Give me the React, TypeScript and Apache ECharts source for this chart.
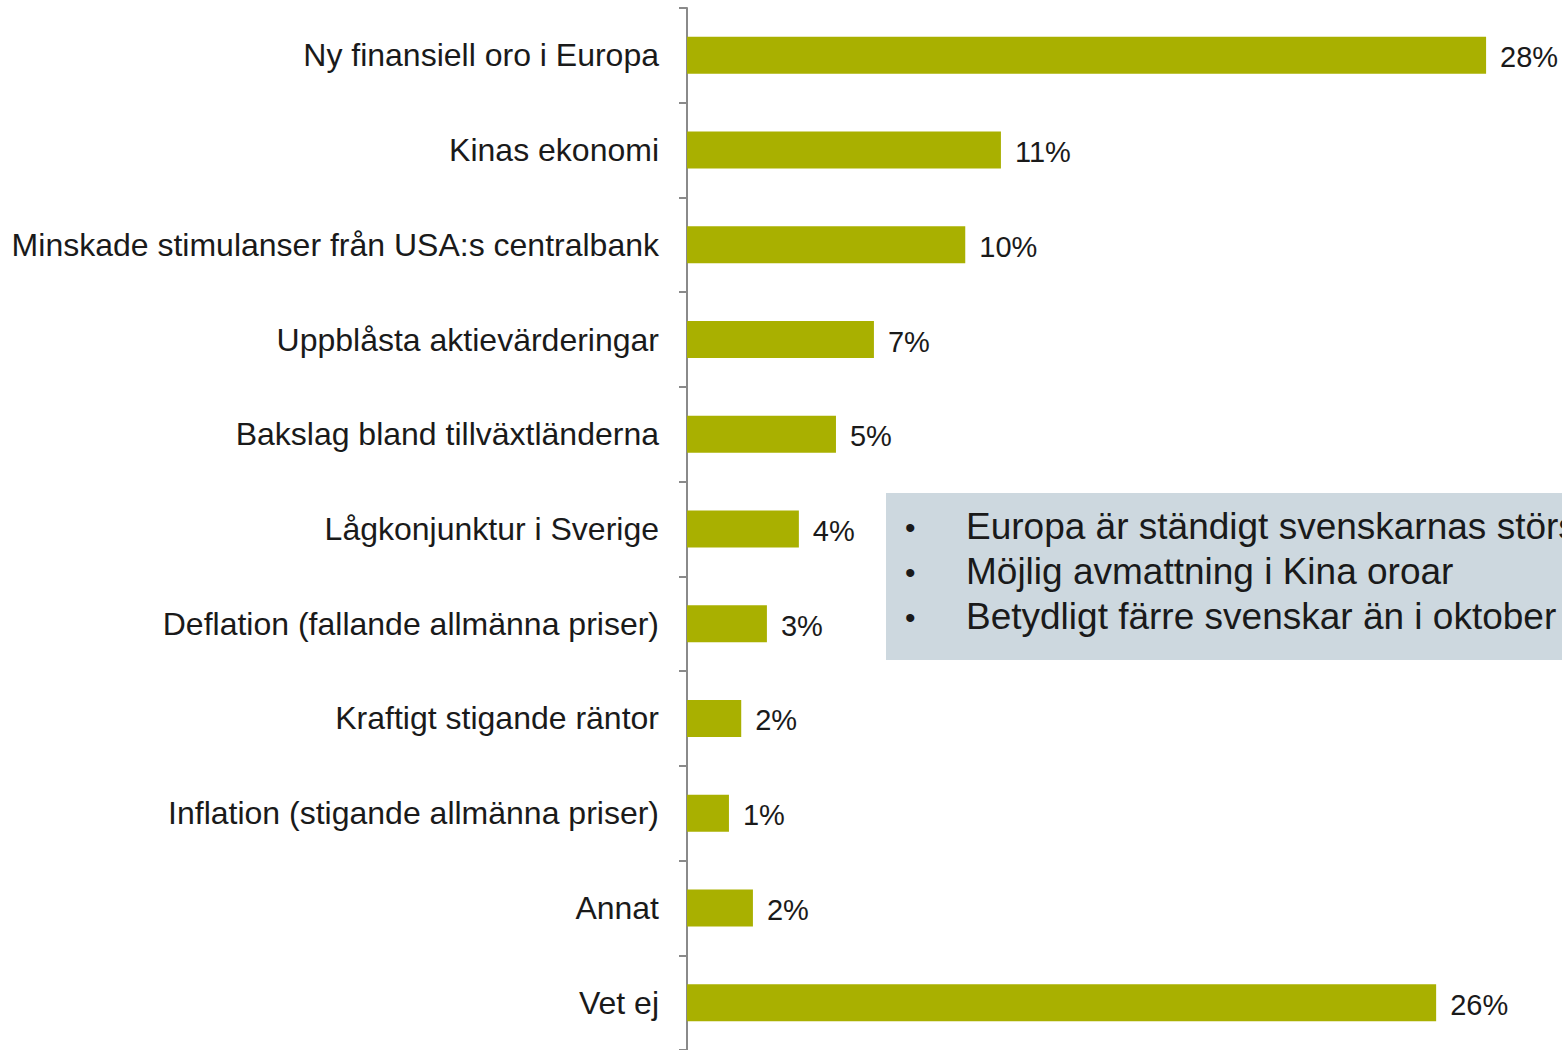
import React, { useEffect, useRef } from "react";
import * as echarts from "echarts";

const categories = [
  "Ny finansiell oro i Europa",
  "Kinas ekonomi",
  "Minskade stimulanser från USA:s centralbank",
  "Uppblåsta aktievärderingar",
  "Bakslag bland tillväxtländerna",
  "Lågkonjunktur i Sverige",
  "Deflation (fallande allmänna priser)",
  "Kraftigt stigande räntor",
  "Inflation (stigande allmänna priser)",
  "Annat",
  "Vet ej",
];
const values = [28, 11, 9.75, 6.55, 5.22, 3.92, 2.8, 1.9, 1.47, 2.31, 26.25];
const valueLabels = ["28%", "11%", "10%", "7%", "5%", "4%", "3%", "2%", "1%", "2%", "26%"];
const bullets = [
  "Europa är ständigt svenskarnas största oro",
  "Möjlig avmattning i Kina oroar",
  "Betydligt färre svenskar än i oktober",
];

const FONT = "'Liberation Sans', Arial, Helvetica, sans-serif";

export default function App() {
  const ref = useRef<HTMLDivElement>(null);
  useEffect(() => {
    if (!ref.current) return;
    const chart = echarts.init(ref.current, undefined, { renderer: "svg" });
    const bulletTexts: any[] = [];
    bullets.forEach((b, i) => {
      bulletTexts.push({
        type: "text",
        x: 905,
        y: 527 + i * 45,
        style: {
          text: "•",
          fontSize: 30,
          fontFamily: FONT,
          fill: "#1a1a1a",
          verticalAlign: "middle",
          align: "left",
        },
        z: 10,
      });
      bulletTexts.push({
        type: "text",
        x: 966,
        y: 526 + i * 45,
        style: {
          text: b,
          fontSize: 37,
          fontFamily: FONT,
          fill: "#1a1a1a",
          verticalAlign: "middle",
          align: "left",
        },
        z: 10,
      });
    });
    chart.setOption({
      animation: false,
      grid: { left: 687, top: 8, width: 875, height: 1045, containLabel: false },
      xAxis: {
        type: "value",
        min: 0,
        max: 30.66,
        show: false,
      },
      yAxis: {
        type: "category",
        inverse: true,
        data: categories,
        axisLine: { show: true, lineStyle: { color: "#8a8a8a", width: 2 } },
        axisTick: { show: true, length: 8, lineStyle: { color: "#8a8a8a", width: 2 } },
        axisLabel: {
          margin: 28,
          fontSize: 32,
          fontFamily: FONT,
          color: "#1a1a1a",
        },
      },
      series: [
        {
          type: "bar",
          data: values,
          barWidth: 37,
          itemStyle: { color: "#a9b000" },
          label: {
            show: true,
            position: "right",
            distance: 14,
            fontSize: 29,
            fontFamily: FONT,
            color: "#1a1a1a",
            offset: [0, 2],
            formatter: (p: any) => valueLabels[p.dataIndex],
          },
        },
      ],
      graphic: [
        {
          type: "rect",
          shape: { x: 886, y: 493, width: 700, height: 167 },
          style: { fill: "#cdd8df" },
          z: 5,
        },
        ...bulletTexts,
      ],
    });
    return () => chart.dispose();
  }, []);
  return (
    <div
      ref={ref}
      style={{ position: "fixed", left: 0, top: 0, width: 1562, height: 1050, background: "#fff" }}
    />
  );
}
